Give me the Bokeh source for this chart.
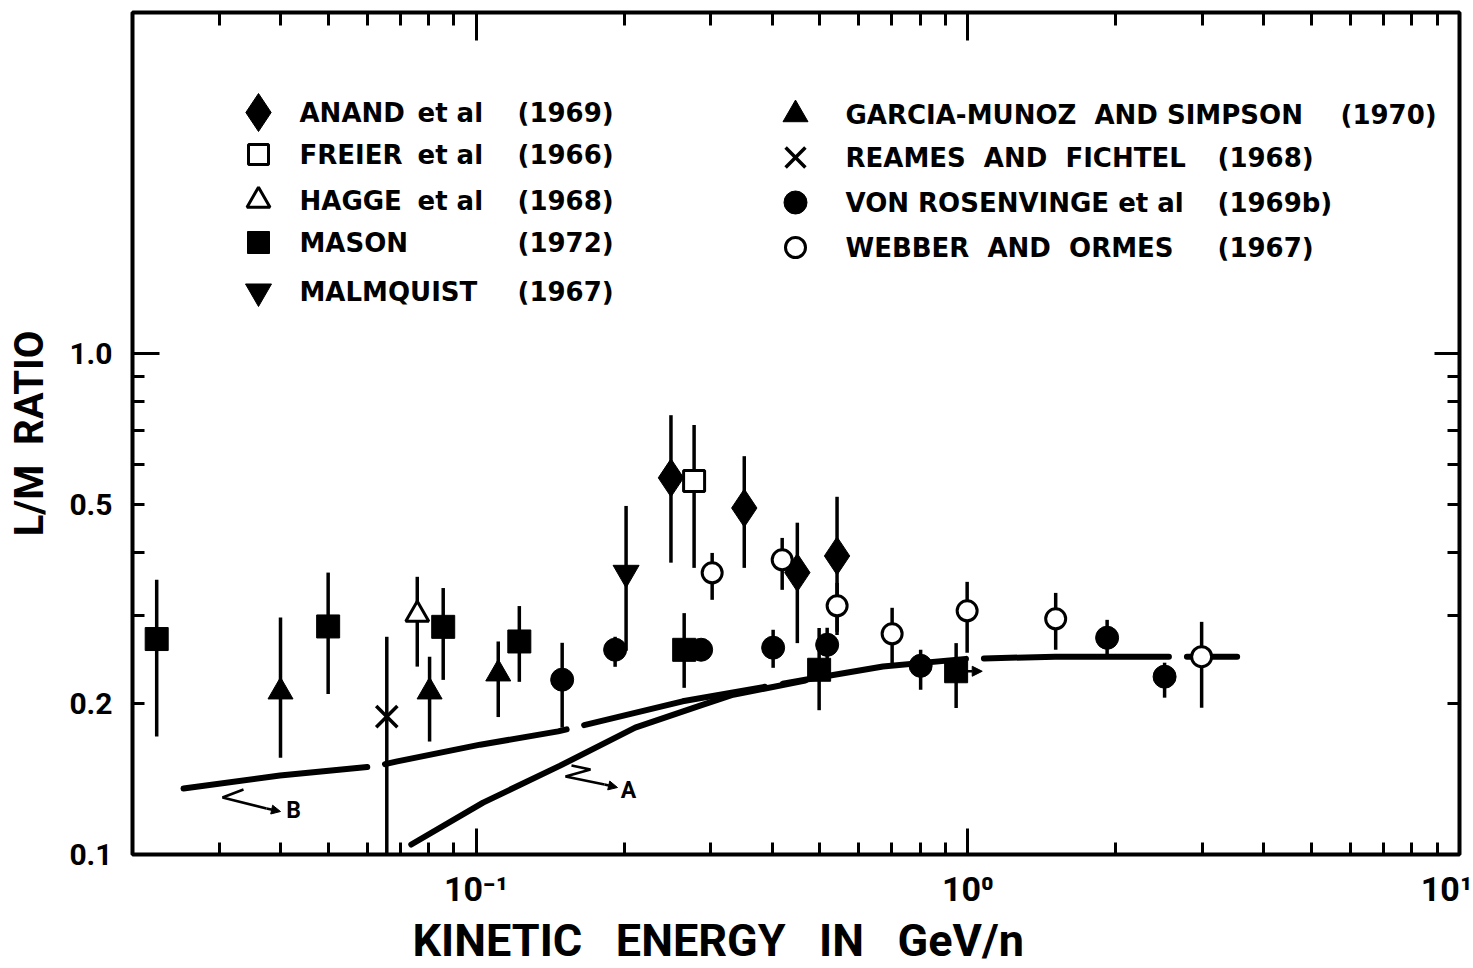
from math import log10, pi
from bokeh.plotting import figure
from bokeh.models import (Range1d, LogAxis, FixedTicker, CustomJSTickFormatter,
                          Title, Arrow, NormalHead)
from bokeh.core.properties import value
from bokeh.embed import file_html
from bokeh.resources import INLINE

# ------------------------------------------------------------------ data
anand_x = [0.249, 0.351, 0.450, 0.542]
anand_y = [0.564, 0.491, 0.365, 0.394]
anand_lo = [0.382, 0.373, 0.264, 0.274]
anand_hi = [0.752, 0.623, 0.459, 0.517]

freier_x = [0.2775]
freier_y = [0.556]
freier_lo = [0.373]
freier_hi = [0.719]

hagge_x = [0.0759]
hagge_y = [0.301]
hagge_lo = [0.237]
hagge_hi = [0.358]

mason_x = [0.0224, 0.0500, 0.0857, 0.1224, 0.2649, 0.4984, 0.9467]
mason_y = [0.269, 0.285, 0.2845, 0.266, 0.256, 0.2336, 0.232]
mason_lo = [0.172, 0.209, 0.223, 0.221, 0.215, 0.194, 0.196]
mason_hi = [0.353, 0.365, 0.340, 0.313, 0.303, 0.283, 0.264]
mason_lower_limit = [False, False, False, False, False, False, True]

malmquist_x = [0.2018]
malmquist_y = [0.3646]
malmquist_lo = [0.2549]
malmquist_hi = [0.4957]

garcia_x = [0.0400, 0.0804, 0.1109]
garcia_y = [0.2112, 0.2112, 0.2294]
garcia_lo = [0.156, 0.168, 0.188]
garcia_hi = [0.297, 0.248, 0.266]

reames_x = [0.0658]
reames_y = [0.1884]
reames_lo = [0.1]
reames_hi = [0.2718]

vr_x = [0.1496, 0.1917, 0.2868, 0.4018, 0.5175, 0.8017, 1.920, 2.513]
vr_y = [0.2232, 0.2561, 0.2561, 0.2585, 0.2620, 0.2379, 0.2706, 0.2263]
vr_lo = [0.1791, 0.2368, 0.2445, 0.2357, 0.2445, 0.2131, 0.2480, 0.2055]
vr_hi = [0.2644, 0.2718, 0.2681, 0.2807, 0.2833, 0.2561, 0.2938, 0.2413]

webber_x = [0.3020, 0.4192, 0.5422, 0.7015, 0.9968, 1.509, 2.989]
webber_y = [0.3646, 0.3870, 0.3133, 0.2756, 0.3063, 0.2952, 0.2480]
webber_lo = [0.3221, 0.3372, 0.2781, 0.2368, 0.2526, 0.2561, 0.1962]
webber_hi = [0.3995, 0.4280, 0.3481, 0.3105, 0.3498, 0.3325, 0.2911]

curve_a_x = [0.0738, 0.1033, 0.1482, 0.2106, 0.2855, 0.3332, 0.4669]
curve_a_y = [0.1047, 0.1269, 0.1504, 0.1791, 0.1981, 0.2083, 0.2222]
curve_b_x = [0.0254, 0.0399, 0.0626, 0.0691, 0.1019, 0.1468, 0.263, 0.467,
             0.672, 0.997, 1.505, 3.53]
curve_b_y = [0.1354, 0.1437, 0.1500, 0.1534, 0.1656, 0.1760, 0.2021, 0.2232,
             0.2372, 0.2457, 0.2480, 0.2480]

x_tick_values = [0.1, 1.0, 10.0]
x_tick_labels = ["10\u207b\u00b9", "10\u2070", "10\u00b9"]
y_tick_values = [0.1, 0.2, 0.5, 1.0]
y_tick_labels = ["0.1", "0.2", "0.5", "1.0"]

left_names = ["ANAND", "FREIER", "HAGGE", "MASON", "MALMQUIST"]
left_etal = ["et al", "et al", "et al"]
left_years = ["(1969)", "(1966)", "(1968)", "(1972)", "(1967)"]
right_names = ["GARCIA-MUNOZ\u00a0 AND SIMPSON", "REAMES\u00a0 AND\u00a0 FICHTEL",
               "VON ROSENVINGE et al", "WEBBER\u00a0 AND\u00a0 ORMES"]
right_years = ["(1970)", "(1968)", "(1969b)", "(1967)"]

x_title = "KINETIC\u00a0\u00a0 ENERGY\u00a0\u00a0 IN\u00a0\u00a0 GeV/n"
y_title = "L/M\u00a0 RATIO"

# ------------------------------------------------------------------ layout
X0, X1 = 0.02, 10.0
Y0, Y1 = 0.1, 4.78
FL, FR, FT, FB = 132, 1459, 12, 854   # frame edges on the page
W, H = 1472, 966

def px2x(px):
    return 10 ** (log10(X0) + (px - FL) / (FR - FL) * (log10(X1) - log10(X0)))

def py2y(py):
    return 10 ** (log10(Y0) + (FB - py) / (FB - FT) * (log10(Y1) - log10(Y0)))

p = figure(width=W, height=H, x_axis_type="log", y_axis_type="log",
           x_range=Range1d(X0, X1), y_range=Range1d(Y0, Y1),
           output_backend="svg", toolbar_location=None,
           min_border_left=FL, min_border_right=W - FR,
           min_border_top=FT, min_border_bottom=H - FB)
p.xgrid.visible = False
p.ygrid.visible = False
p.outline_line_color = "black"
p.outline_line_width = 4
p.outline_line_alpha = 1.0
p.background_fill_color = "white"
p.border_fill_color = "white"

x_minor = [m * 10 ** e for e in (-2, -1, 0) for m in range(2, 10) if m * 10 ** e > X0]
y_minor_all = [0.2, 0.3, 0.4, 0.5, 0.6, 0.7, 0.8, 0.9]

fmt_code = """
for (let i = 0; i < vals.length; i++) {
  if (Math.abs(Math.log10(vals[i]) - Math.log10(tick)) < 1e-6) return labs[i];
}
return " ";
"""

def style_ticks(ax, major_len, minor_len):
    ax.major_tick_in = major_len
    ax.major_tick_out = 0
    ax.minor_tick_in = minor_len
    ax.minor_tick_out = 0
    ax.major_tick_line_width = 3
    ax.minor_tick_line_width = 3
    ax.major_tick_line_color = "black"
    ax.minor_tick_line_color = "black"
    ax.axis_line_color = None

def hide_labels(ax):
    ax.formatter = CustomJSTickFormatter(code="return ' ';")
    ax.major_label_text_font_size = "1px"
    ax.major_label_text_color = None
    ax.major_label_standoff = 0

# bottom axis (labels)
xb = p.xaxis[0]
xb.ticker = FixedTicker(ticks=x_tick_values, minor_ticks=x_minor)
xb.formatter = CustomJSTickFormatter(args=dict(vals=x_tick_values, labs=x_tick_labels), code=fmt_code)
style_ticks(xb, 26, 12)
xb.major_label_text_font = "Roboto"
xb.major_label_text_font_style = "bold"
xb.major_label_text_font_size = "34px"
xb.major_label_text_color = "black"
xb.major_label_standoff = 14

# x title (left-aligned with an offset, as in the original)
p.add_layout(Title(text=x_title, align="left", offset=412 - FL, standoff=0,
                   text_font="Roboto", text_font_style="bold", text_font_size="45px",
                   text_color="black"), "below")

# top axis (ticks only)
xt = LogAxis(ticker=FixedTicker(ticks=x_tick_values, minor_ticks=x_minor))
style_ticks(xt, 28, 13)
hide_labels(xt)
p.add_layout(xt, "above")

# left inner axis (ticks only)
yl = p.yaxis[0]
yl.ticker = FixedTicker(ticks=[1.0], minor_ticks=y_minor_all)
style_ticks(yl, 27, 12)
hide_labels(yl)

# left outer axis (labels + title)
ylab = LogAxis(ticker=FixedTicker(ticks=y_tick_values, minor_ticks=[]),
               formatter=CustomJSTickFormatter(args=dict(vals=y_tick_values, labs=y_tick_labels), code=fmt_code))
style_ticks(ylab, 0, 0)
ylab.major_label_text_font = "Roboto"
ylab.major_label_text_font_style = "bold"
ylab.major_label_text_font_size = "30px"
ylab.major_label_text_color = "black"
ylab.major_label_standoff = 20
ylab.axis_label = y_title
ylab.axis_label_text_font = "Roboto"
ylab.axis_label_text_font_style = "bold"
ylab.axis_label_text_font_size = "40px"
ylab.axis_label_text_color = "black"
ylab.axis_label_standoff = 13
p.add_layout(ylab, "left")

# right axis (ticks only)
yr = LogAxis(ticker=FixedTicker(ticks=[1.0], minor_ticks=y_minor_all))
style_ticks(yr, 25, 12)
hide_labels(yr)
p.add_layout(yr, "right")

# ------------------------------------------------------------------ curves
p.line(curve_b_x, curve_b_y, line_width=6, line_color="black", line_dash="185 18", line_cap="round")
p.line(curve_a_x, curve_a_y, line_width=6, line_color="black", line_cap="round")

# ------------------------------------------------------------------ error bars
EB = dict(line_width=3.5, line_color="black")
for xs, lo, hi in [(anand_x, anand_lo, anand_hi), (freier_x, freier_lo, freier_hi),
                   (hagge_x, hagge_lo, hagge_hi), (mason_x, mason_lo, mason_hi),
                   (malmquist_x, malmquist_lo, malmquist_hi), (garcia_x, garcia_lo, garcia_hi),
                   (reames_x, reames_lo, reames_hi), (vr_x, vr_lo, vr_hi),
                   (webber_x, webber_lo, webber_hi)]:
    p.segment(x0=xs, y0=lo, x1=xs, y1=hi, **EB)

# lower-limit arrow (energy) on MASON point
for xv, yv, flag in zip(mason_x, mason_y, mason_lower_limit):
    if flag:
        p.add_layout(Arrow(end=NormalHead(size=10, fill_color="black", line_color="black"),
                           x_start=xv, y_start=yv, x_end=xv * 1.13, y_end=yv,
                           line_width=2.5, line_color="black"))

# ------------------------------------------------------------------ markers
p.scatter(anand_x, anand_y, marker="diamond", size=38, fill_color="black", line_color="black")
p.scatter(freier_x, freier_y, marker="square", size=21, fill_color="white", line_color="black", line_width=3)
p.scatter(hagge_x, hagge_y, marker="triangle", size=23, fill_color="white", line_color="black", line_width=3)
p.scatter(mason_x, mason_y, marker="square", size=23, fill_color="black", line_color="black")
p.scatter(malmquist_x, malmquist_y, marker="inverted_triangle", size=26, fill_color="black", line_color="black")
p.scatter(garcia_x, garcia_y, marker="triangle", size=25, fill_color="black", line_color="black")
p.scatter(reames_x, reames_y, marker="x", size=30, line_color="black", line_width=3.5)
p.scatter(vr_x, vr_y, marker="circle", size=23, fill_color="black", line_color="black")
p.scatter(webber_x, webber_y, marker="circle", size=20, fill_color="white", line_color="black", line_width=3)

# ------------------------------------------------------------------ legend (custom)
left_rows = [112, 154, 200, 242, 291]
right_rows = [114, 157, 202, 247]
lmx, ltx, lex, lyx = 258, 299, 417, 517
rmx, rtx = 795, 845
ryx = [1340, 1217, 1217, 1217]

left_markers = [dict(marker="diamond", size=38, fill_color="black", line_color="black"),
                dict(marker="square", size=20, fill_color="white", line_color="black", line_width=3),
                dict(marker="triangle", size=23, fill_color="white", line_color="black", line_width=3),
                dict(marker="square", size=22, fill_color="black", line_color="black"),
                dict(marker="inverted_triangle", size=26, fill_color="black", line_color="black")]
right_markers = [dict(marker="triangle", size=25, fill_color="black", line_color="black"),
                 dict(marker="x", size=28, line_color="black", line_width=3.5),
                 dict(marker="circle", size=23, fill_color="black", line_color="black"),
                 dict(marker="circle", size=20, fill_color="white", line_color="black", line_width=3)]

for ry, mk in zip(left_rows, left_markers):
    p.scatter([px2x(lmx)], [py2y(ry)], **mk)
for ry, mk in zip(right_rows, right_markers):
    p.scatter([px2x(rmx)], [py2y(ry)], **mk)

TXT = dict(text_font=value("DejaVu Sans"), text_font_style="bold", text_font_size="26px",
           text_baseline="middle", text_align="left", text_color="black")
p.text(x=[px2x(ltx)] * len(left_names), y=[py2y(r) for r in left_rows], text=left_names, **TXT)
p.text(x=[px2x(lex)] * len(left_etal), y=[py2y(r) for r in left_rows[:len(left_etal)]], text=left_etal, **TXT)
p.text(x=[px2x(lyx)] * len(left_years), y=[py2y(r) for r in left_rows], text=left_years, **TXT)
p.text(x=[px2x(rtx)] * len(right_names), y=[py2y(r) for r in right_rows], text=right_names, **TXT)
p.text(x=[px2x(v) for v in ryx], y=[py2y(r) for r in right_rows], text=right_years, **TXT)

# ------------------------------------------------------------------ curve labels A / B
zig_b = [(243, 789), (222, 797), (266, 808)]
zig_a = [(571, 765), (590, 769), (565, 776), (604, 784)]
for path, tip in [(zig_b, (280, 811)), (zig_a, (617, 787))]:
    p.line([px2x(a) for a, b in path], [py2y(b) for a, b in path], line_width=2.5, line_color="black")
    p.add_layout(Arrow(end=NormalHead(size=9, fill_color="black", line_color="black"),
                       x_start=px2x(path[-1][0]), y_start=py2y(path[-1][1]),
                       x_end=px2x(tip[0]), y_end=py2y(tip[1]), line_width=2.5, line_color="black"))
p.text(x=[px2x(293), px2x(628)], y=[py2y(810), py2y(790)], text=["B", "A"],
       text_font=value("Roboto"), text_font_style="bold", text_font_size="23px",
       text_baseline="middle", text_align="center", text_color="black")

open("out.html", "w").write(file_html(p, INLINE))
